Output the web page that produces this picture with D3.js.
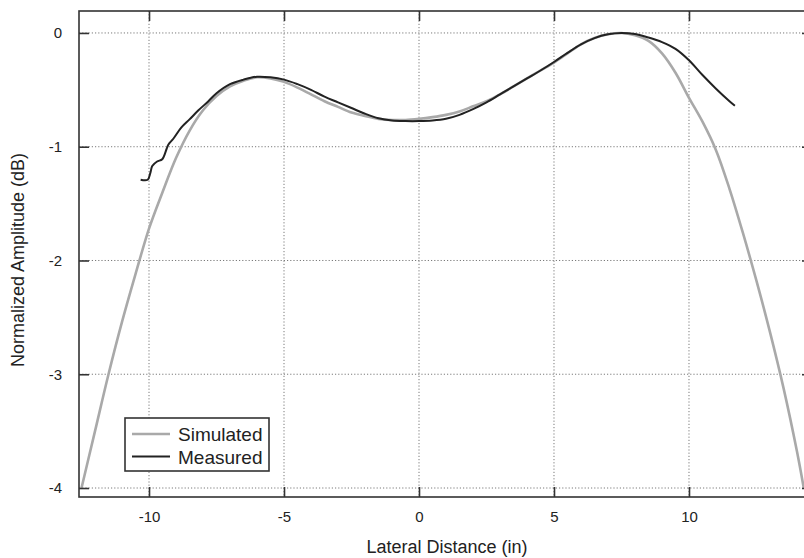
<!DOCTYPE html>
<html>
<head>
<meta charset="utf-8">
<script src="https://cdn.jsdelivr.net/npm/d3@7"></script>
<style>
  html, body { margin: 0; padding: 0; background: #fff; }
  svg { display: block; font-family: Arial, "Liberation Sans", Helvetica, sans-serif; }
</style>
</head>
<body>
<svg id="chart" width="804" height="558"></svg>
<script>
// ---- data ----
const simX = [-12.5, -12.0, -11.5, -11.0, -10.5, -10.0, -9.5, -9.0, -8.5, -8.0, -7.5, -7.0, -6.5, -6.0, -5.5, -5.0, -4.5, -4.0, -3.5, -3.0, -2.5, -2.0, -1.5, -1.0, -0.5, 0, 0.5, 1.0, 1.5, 2.0, 2.5, 3.0, 3.5, 4.0, 4.5, 5.0, 5.5, 6.0, 6.5, 7.0, 7.5, 8.0, 8.5, 9.0, 9.5, 10.0, 10.5, 11.0, 11.5, 12.0, 12.5, 13.0, 13.5, 14.0, 14.25];
const simY = [-4.0, -3.50, -3.0, -2.54, -2.12, -1.72, -1.40, -1.10, -0.86, -0.68, -0.555, -0.47, -0.42, -0.39, -0.40, -0.43, -0.48, -0.54, -0.60, -0.65, -0.70, -0.73, -0.755, -0.765, -0.765, -0.755, -0.74, -0.72, -0.69, -0.645, -0.60, -0.54, -0.47, -0.40, -0.33, -0.26, -0.18, -0.10, -0.045, -0.012, 0.0, -0.02, -0.07, -0.18, -0.35, -0.57, -0.78, -1.03, -1.37, -1.76, -2.18, -2.63, -3.12, -3.68, -4.0];
const measX = [-10.31, -10.05, -9.95, -9.88, -9.7, -9.51, -9.35, -9.28, -9.1, -8.8, -8.5, -8.17, -7.8, -7.5, -7.0, -6.5, -6.0, -5.5, -5.0, -4.5, -4.0, -3.5, -3.0, -2.5, -2.0, -1.5, -1.0, -0.5, 0, 0.5, 1.0, 1.5, 2.0, 2.5, 3.0, 3.5, 4.0, 4.5, 5.0, 5.5, 6.0, 6.5, 7.0, 7.5, 8.0, 8.5, 9.0, 9.5, 10.0, 10.5, 11.0, 11.5, 11.7];
const measY = [-1.29, -1.29, -1.23, -1.17, -1.13, -1.11, -1.02, -0.98, -0.93, -0.83, -0.76, -0.68, -0.60, -0.53, -0.45, -0.41, -0.385, -0.39, -0.41, -0.45, -0.50, -0.56, -0.61, -0.66, -0.71, -0.75, -0.77, -0.775, -0.775, -0.77, -0.755, -0.72, -0.67, -0.61, -0.54, -0.47, -0.40, -0.33, -0.255, -0.175, -0.10, -0.045, -0.012, 0.0, -0.01, -0.04, -0.08, -0.14, -0.24, -0.37, -0.49, -0.60, -0.64];
const xTicks = [-10, -5, 0, 5, 10];
const yTicks = [0, -1, -2, -3, -4];
const seriesNames = ["Simulated", "Measured"];
const xLabel = "Lateral Distance (in)";
const yLabel = "Normalized Amplitude (dB)";

// ---- layout ----
const L = 79, T = 11, R = 812, B = 497;
const svg = d3.select("#chart");
const x = d3.scaleLinear().domain([-12.593, 14.556]).range([L, R]);
const y = d3.scaleLinear().domain([-4.079, 0.193]).range([B, T]);
const axisColor = "#333";
const fmt = d => String(d);  // plain hyphen minus

// grid
const grid = svg.append("g");
grid.selectAll(".vg").data(xTicks).join("line")
  .attr("x1", d => x(d)).attr("x2", d => x(d)).attr("y1", T).attr("y2", B)
  .attr("stroke", "#7a7a7a").attr("stroke-width", 1).attr("stroke-dasharray", "1.2,2");
grid.selectAll(".hg").data(yTicks).join("line")
  .attr("x1", L).attr("x2", R).attr("y1", d => y(d)).attr("y2", d => y(d))
  .attr("stroke", "#7a7a7a").attr("stroke-width", 1).attr("stroke-dasharray", "1.2,2");

// lines
const sim = simX.map((v, i) => [v, simY[i]]);
const meas = measX.map((v, i) => [v, measY[i]]);
const line = d3.line().x(d => x(d[0])).y(d => y(d[1])).curve(d3.curveCatmullRom.alpha(0.5));
svg.append("path").datum(sim).attr("d", line).attr("fill", "none")
  .attr("stroke", "#a9a9a9").attr("stroke-width", 2.6).attr("stroke-linejoin", "round");
svg.append("path").datum(meas).attr("d", line).attr("fill", "none")
  .attr("stroke", "#222").attr("stroke-width", 2).attr("stroke-linejoin", "round");

// axes (inward ticks)
const tl = 10;
const ax = svg.append("g").attr("stroke", axisColor).attr("stroke-width", 1.6);
ax.append("rect").attr("x", L).attr("y", T).attr("width", R - L).attr("height", B - T).attr("fill", "none");
const gB = svg.append("g").attr("transform", `translate(0,${B})`).call(d3.axisBottom(x).tickValues(xTicks).tickSize(-tl).tickFormat(fmt).tickPadding(14));
const gT = svg.append("g").attr("transform", `translate(0,${T})`).call(d3.axisTop(x).tickValues(xTicks).tickSize(-tl).tickFormat(""));
const gL = svg.append("g").attr("transform", `translate(${L},0)`).call(d3.axisLeft(y).tickValues(yTicks).tickSize(-tl).tickFormat(fmt).tickPadding(17));
const gR = svg.append("g").attr("transform", `translate(${R},0)`).call(d3.axisRight(y).tickValues(yTicks).tickSize(-tl).tickFormat(""));
[gB, gT, gL, gR].forEach(g => {
  g.select(".domain").remove();
  g.selectAll(".tick line").attr("stroke", axisColor).attr("stroke-width", 1.6);
  g.selectAll("text").attr("fill", "#222").style("font-size", "15px")
    .style("font-family", "Arial, 'Liberation Sans', sans-serif");
});

// axis labels
svg.append("text").attr("x", 447).attr("y", 553).attr("text-anchor", "middle")
  .attr("fill", "#222").style("font-size", "18px").text(xLabel);
svg.append("text").attr("transform", `translate(24,${260}) rotate(-90)`).attr("text-anchor", "middle")
  .attr("fill", "#222").style("font-size", "18px").text(yLabel);

// legend
const lg = svg.append("g");
lg.append("rect").attr("x", 125).attr("y", 418).attr("width", 144).attr("height", 53)
  .attr("fill", "#fff").attr("stroke", axisColor).attr("stroke-width", 1.6);
const legendColors = ["#a9a9a9", "#222"];
const legendW = [2.6, 2];
seriesNames.forEach((n, i) => {
  const ly = 434 + i * 22.5;
  lg.append("line").attr("x1", 132).attr("x2", 170).attr("y1", ly).attr("y2", ly)
    .attr("stroke", legendColors[i]).attr("stroke-width", legendW[i]);
  lg.append("text").attr("x", 178).attr("y", ly + 7).attr("fill", "#222")
    .style("font-size", "19px").text(n);
});
</script>
</body>
</html>
